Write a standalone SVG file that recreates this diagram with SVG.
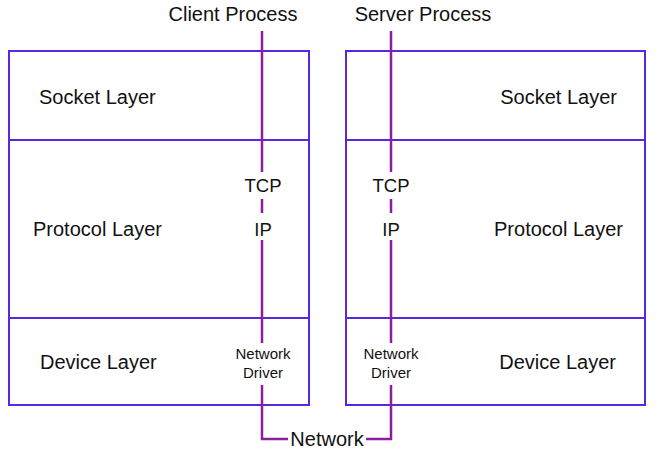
<svg xmlns="http://www.w3.org/2000/svg" width="661" height="453" viewBox="0 0 661 453">
<style>
.box{fill:none;stroke:#5a28dc;stroke-width:2}
.ln{fill:none;stroke:#8e1c9e;stroke-width:2.5}
text{font-family:"Liberation Sans",Arial,sans-serif;fill:#111}
.big{font-size:20px}
.mid{font-size:18.5px}
.sm{font-size:15px}
</style>
<rect width="661" height="453" fill="#fff"/>
<g id="client-host">
<rect class="box" x="9" y="51" width="300" height="354"/>
<line class="box" x1="9" y1="140" x2="309" y2="140"/>
<line class="box" x1="9" y1="318" x2="309" y2="318"/>
<text class="big" x="39" y="104">Socket Layer</text>
<text class="big" x="33" y="236">Protocol Layer</text>
<text class="big" x="40" y="369">Device Layer</text>
</g>
<g id="server-host">
<rect class="box" x="346" y="51" width="299" height="354"/>
<line class="box" x1="346" y1="140" x2="645" y2="140"/>
<line class="box" x1="346" y1="318" x2="645" y2="318"/>
<text class="big" x="617" y="104" text-anchor="end">Socket Layer</text>
<text class="big" x="623" y="236" text-anchor="end">Protocol Layer</text>
<text class="big" x="616" y="369" text-anchor="end">Device Layer</text>
</g>
<g id="connectors">
<path class="ln" d="M262 31V172M262 199V213M262 240V343M262 385V439H288"/>
<path class="ln" d="M391 31V172M391 199V213M391 240V343M391 385V439H366"/>
</g>
<g id="labels">
<text class="big" x="233" y="21" text-anchor="middle">Client Process</text>
<text class="big" x="423" y="21" text-anchor="middle">Server Process</text>
<text class="mid" x="263" y="192" text-anchor="middle">TCP</text>
<text class="mid" x="263" y="236" text-anchor="middle">IP</text>
<text class="mid" x="391" y="192" text-anchor="middle">TCP</text>
<text class="mid" x="391" y="236" text-anchor="middle">IP</text>
<text class="sm" x="263" y="359" text-anchor="middle">Network</text>
<text class="sm" x="263" y="378" text-anchor="middle">Driver</text>
<text class="sm" x="391" y="359" text-anchor="middle">Network</text>
<text class="sm" x="391" y="378" text-anchor="middle">Driver</text>
<text class="big" x="327" y="446" text-anchor="middle">Network</text>
</g>
</svg>
